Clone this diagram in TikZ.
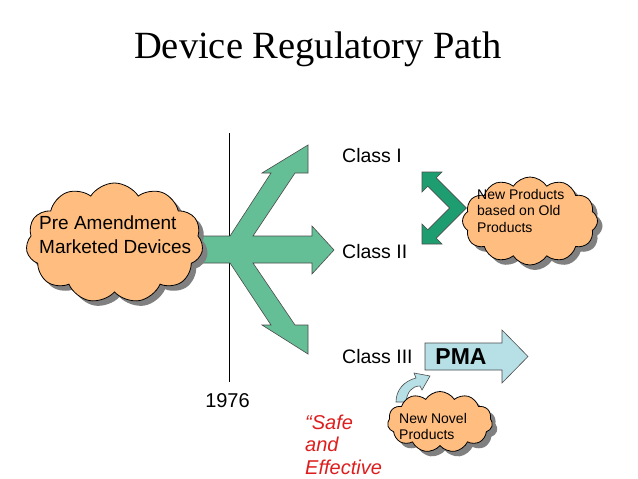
\documentclass[tikz,border=0pt]{standalone}
\usepackage{fontspec}
\setmainfont{Liberation Serif}
\newfontfamily\arialf{Liberation Sans}
\usetikzlibrary{shapes.symbols,shadows}
\definecolor{peach}{RGB}{255,190,128}
\definecolor{trigreen}{RGB}{100,190,150}
\definecolor{chevgreen}{RGB}{30,158,112}
\definecolor{pmablue}{RGB}{182,224,230}
\definecolor{safered}{RGB}{222,30,30}
\begin{document}
\begin{tikzpicture}[x=1pt,y=-1pt,
 cloudbox/.style={cloud, cloud puffs=12, cloud puff arc=115, cloud ignores aspect, draw=black, line width=0.8pt, fill=peach, inner sep=0pt,
   drop shadow={shadow xshift=5pt, shadow yshift=-5pt, fill=black!50, opacity=1}},
 lbl/.style={font=\arialf\fontsize{19.5}{24}\selectfont, inner sep=0pt, anchor=base west},
 small/.style={font=\arialf\fontsize{14}{16.5}\selectfont, inner sep=0pt, anchor=north west, align=left},
 shapeline/.style={draw=black!70, line width=0.6pt, line join=miter}]
\useasboundingbox[fill=white] (0,0) rectangle (638,479);

% title
\node[font=\fontsize{38.5}{44}\selectfont, inner sep=0pt, anchor=base] (title) at (318,58) {Device Regulatory Path};

% 1976 line
\coordinate (ltop) at (229,133);
\coordinate (lbot) at (229,382);
\draw[black, line width=0.8pt] (ltop) -- (lbot);
\node[font=\arialf\fontsize{20}{24}\selectfont, inner sep=0pt, anchor=base] (year) at (227.5,407) {1976};

% trident arrow
\fill[trigreen, shapeline] (308,145) -- (308,173) -- (295,173) -- (253,236) -- (312,236) -- (312,226) -- (334,250)
  -- (312,274) -- (312,263) -- (253,263) -- (295,325) -- (308,325) -- (308,354) -- (262,325) -- (271,325)
  -- (230,263) -- (190,263) -- (190,236) -- (230,236) -- (271,173) -- (262,173) -- cycle;

% cloud 1
\node[cloudbox, minimum width=177pt, minimum height=120pt, cloud puffs=11] (c1) at (114.5,243) {};
\node[font=\arialf\fontsize{19}{24}\selectfont, inner sep=0pt, anchor=north west, align=left] (c1t) at (39,215.5) {Pre Amendment\\Marketed Devices};

% class labels
\node[lbl] (cI) at (342,162) {Class I};
\node[lbl] (cII) at (342,258) {Class II};
\node[lbl] (cIII) at (342,363) {Class III};

% chevron double arrow
\fill[chevgreen, shapeline] (422,172) -- (442,172) -- (436.2,177.8) -- (466.4,208) -- (436.2,238.2) -- (442,244)
  -- (422,244) -- (422,224) -- (427.8,229.8) -- (449.6,208) -- (427.8,186.2) -- (422,192) -- cycle;

% cloud 2
\node[cloudbox, minimum width=135pt, minimum height=88pt] (c2) at (530,221) {};
\node[small] (c2t) at (477,189) {New Products\\based on Old\\Products};

% PMA arrow
\fill[pmablue, shapeline] (425,343) -- (502,343) -- (502,330) -- (528,356.5) -- (502,383) -- (502,370) -- (425,370) -- cycle;
\node[font=\arialf\bfseries\fontsize{23}{26}\selectfont, inner sep=0pt] (pma) at (461,356.5) {PMA};

% curved arrow
\fill[pmablue, shapeline] (396,402) .. controls (396,390) and (404,381) .. (416,378) -- (414,373) -- (430,376)
  -- (422,390) -- (420,386) .. controls (412,386) and (407,392) .. (406,402) -- cycle;

% cloud 3
\node[cloudbox, minimum width=105pt, minimum height=61pt, cloud puffs=11] (c3) at (440,422) {};
\node[small] (c3t) at (399,413) {New Novel\\Products};

% safe and effective
\node[font=\arialf\itshape\fontsize{20}{22.5}\selectfont, text=safered, inner sep=0pt, anchor=north west, align=left] (safe) at (305,414.5) {“Safe\\and\\Effective};
\end{tikzpicture}
\end{document}
